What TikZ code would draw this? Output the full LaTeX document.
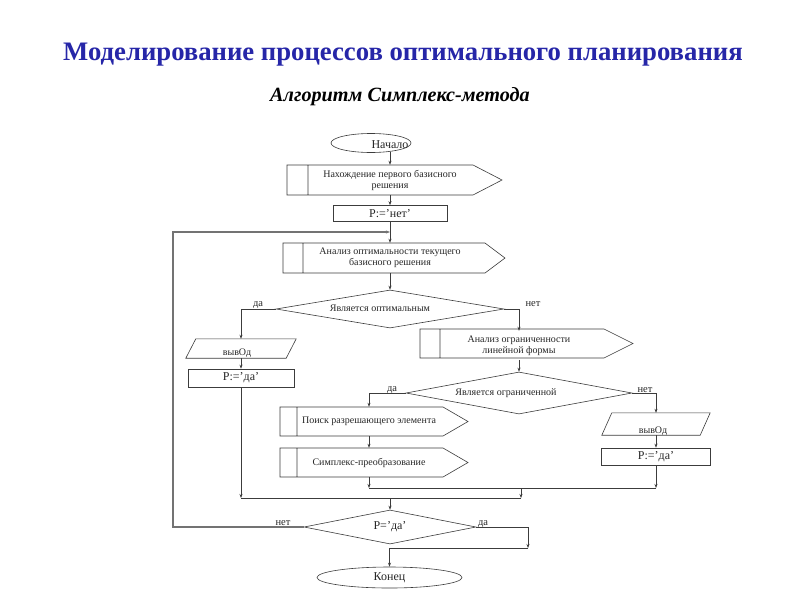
\documentclass[tikz,border=0pt]{standalone}
\usepackage{fontspec}
\setmainfont{Liberation Serif}
\usetikzlibrary{arrows.meta,shapes.geometric}
\definecolor{titleblue}{RGB}{38,38,168}
\definecolor{lncol}{RGB}{60,60,60}
\begin{document}
\begin{tikzpicture}[x=1pt,y=-1pt,
  ln/.style={draw=lncol, line width=0.6pt},
  arr/.style={ln, -{Stealth[length=4pt,width=3pt]}},
  loopln/.style={draw=black!55, line width=1.1pt, -{Stealth[length=4pt,width=3pt]}},
  txt/.style={font=\fontsize{10}{11}\selectfont, text=black!85, align=center, inner sep=0pt},
  big/.style={font=\fontsize{12}{13}\selectfont, text=black!85, inner sep=0pt},
  lab/.style={font=\fontsize{10.5}{12}\selectfont, text=black!85, inner sep=0pt},
  box/.style={draw=lncol, line width=0.6pt, rectangle, inner sep=0pt, big},
  dia/.style={draw=lncol, line width=0.6pt, diamond, shape aspect=6, inner sep=0pt},
  ell/.style={draw=lncol, line width=0.6pt, ellipse, inner sep=0pt},
  iobox/.style={rectangle, inner sep=0pt},
  pent/.style={draw=lncol, line width=0.6pt, line join=miter}]
\useasboundingbox (0,0) rectangle (800,600);
\fill[white] (0,0) rectangle (800,600);

% titles
\node[font=\bfseries\fontsize{26.7}{30}\selectfont, text=titleblue] (title) at (403,55) {Моделирование процессов оптимального планирования};
\node[font=\bfseries\itshape\fontsize{20.2}{24}\selectfont] (subtitle) at (400,97) {Алгоритм Симплекс-метода};

% start
\node[ell, minimum width=80pt, minimum height=19pt] (start) at (371,143) {};
\node[big] (startt) at (390,145) {Начало};

% p1
\draw[pent] (287,165) -- (473,165) -- (502,180) -- (473,195) -- (287,195) -- cycle (308,165) -- (308,195);
\node[txt, minimum height=30pt] (p1) at (390,180) {Нахождение первого базисного\\решения};

\node[box, minimum width=114pt, minimum height=16pt] (pnet) at (390,213.5) {P:=’нет’};

% p2
\draw[pent] (283,243) -- (485,243) -- (505,258) -- (485,273) -- (283,273) -- cycle (303,243) -- (303,273);
\node[txt, minimum height=30pt] (p2) at (390,258) {Анализ оптимальности текущего\\базисного решения};

% d1
\node[dia, minimum width=228pt, minimum height=38pt] (d1) at (390,309) {};
\node[txt] (d1t) at (380,308) {Является оптимальным};
\node[lab] (d1yes) at (258,305) {да};
\node[lab] (d1no) at (533,304) {нет};

% left column
\node[iobox, minimum width=100pt, minimum height=19pt] (out1) at (241,348.5) {};
\draw[pent] ([xshift=-5pt]out1.south west) -- ([xshift=-5pt]out1.south east) -- ([xshift=5pt]out1.north east) -- ([xshift=5pt]out1.north west) -- cycle;
\node[txt] (out1t) at (237,353) {вывОд};
\node[box, minimum width=106pt, minimum height=18pt] (pda1) at (241,378) {P:=’да’};

% p3
\draw[pent] (420,329) -- (604,329) -- (633,343.5) -- (604,358) -- (420,358) -- cycle (440,329) -- (440,358);
\node[txt, minimum height=29pt] (p3) at (519,345.5) {Анализ ограниченности\\линейной формы};

% d2
\node[dia, minimum width=226pt, minimum height=42pt] (d2) at (519,393) {};
\node[txt] (d2t) at (506,393) {Является ограниченной};
\node[lab] (d2yes) at (392,390) {да};
\node[lab] (d2no) at (645,390) {нет};

% p4, p5
\draw[pent] (280,407) -- (443,407) -- (468,421.5) -- (443,436) -- (280,436) -- cycle (297,407) -- (297,436);
\node[txt, minimum height=29pt] (p4) at (369,421.5) {Поиск разрешающего элемента};
\draw[pent] (280,448) -- (443,448) -- (468,462.5) -- (443,477) -- (280,477) -- cycle (297,448) -- (297,477);
\node[txt, minimum height=29pt] (p5) at (369,462.5) {Симплекс-преобразование};

% right column
\node[iobox, minimum width=98pt, minimum height=22pt] (out2) at (656,424) {};
\draw[pent] ([xshift=-5pt]out2.south west) -- ([xshift=-5pt]out2.south east) -- ([xshift=5pt]out2.north east) -- ([xshift=5pt]out2.north west) -- cycle;
\node[txt] (out2t) at (653,431) {вывОд};
\node[box, minimum width=109pt, minimum height=17pt] (pda2) at (656,456.5) {P:=’да’};

% d3 and end
\node[dia, minimum width=172pt, minimum height=34pt, big] (d3) at (390,527) {P=’да’};
\node[lab] (d3no) at (283,523) {нет};
\node[lab] (d3yes) at (483,524) {да};
\node[ell, minimum width=145pt, minimum height=21pt, big] (fin) at (389.5,577.5) {Конец};

% coordinates
\coordinate (m1) at (521,488);
\coordinate (m2) at (390,498);
\coordinate (lc) at (173,232);
\coordinate (j) at (390,232);
\coordinate (r) at (528,548);

% connectors
\draw[arr] (startt.south |- 0,151.5) -- (p1.north);
\draw[arr] (p1.south) -- (pnet.north);
\draw[arr] (pnet.south) -- (p2.north);
\draw[arr] (p2.south) -- (d1.north);
\draw[arr] (d1.west) -| (out1.north);
\draw[arr] (out1.south) -- (pda1.north);
\draw[arr] (d1.east) -| (p3.north);
\draw[arr] (p3.south) -- (d2.north);
\draw[arr] (d2.west) -| (p4.north);
\draw[arr] (p4.south) -- (p5.north);
\draw[arr] (d2.east) -| (out2.north);
\draw[arr] (out2.south) -- (pda2.north);
\draw[arr] (p5.south) -- (p5.south |- m1);
\draw[arr] (pda2.south) -- (pda2.south |- m1);
\draw[ln] (p5.south |- m1) -- (pda2.south |- m1);
\draw[arr] (m1) -- (m1 |- m2);
\draw[arr] (pda1.south) -- (pda1.south |- m2);
\draw[ln] (pda1.south |- m2) -- (m1 |- m2);
\draw[arr] (m2) -- (d3.north);
\draw[loopln] (d3.west) -| (lc) -- (j);
\draw[arr] (d3.east) -| (r);
\draw[arr] (r) -- (r -| fin.north) -- (fin.north);
\end{tikzpicture}
\end{document}
